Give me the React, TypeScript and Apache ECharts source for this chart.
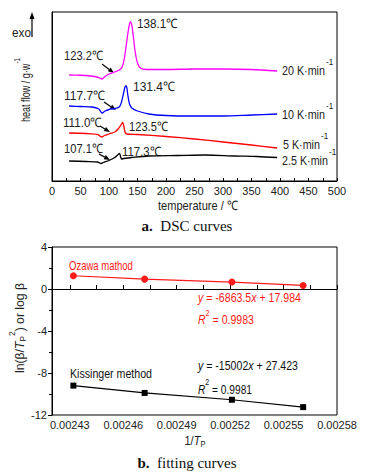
import React, { useEffect, useRef } from "react";
import * as echarts from "echarts";

// ---------- DSC curves (temperature in °C, heat flow in arbitrary units) ----------
const t20 = [30, 45, 60, 75, 84, 88, 92, 100, 110, 118, 123, 127, 131, 134, 136.5, 138, 140, 143, 146, 150, 155, 165, 200, 250, 300, 350, 395];
const hf20 = [106, 105.8, 105.5, 104.5, 103, 102, 104, 107, 109, 111, 114, 123, 139, 151, 158, 159, 156, 143, 129, 118, 113, 111.5, 111.5, 112, 112, 111.5, 110];

const t10 = [30, 50, 70, 82, 88, 93, 100, 110, 118, 122, 126, 129, 131, 133, 136, 140, 150, 170, 200, 250, 300, 350, 395];
const hf10 = [75, 74.5, 74, 72, 68, 70, 71.5, 72.5, 74, 79, 89, 95, 94, 86, 77, 73, 70, 67, 65.5, 65, 65, 66, 67];

const t5 = [30, 60, 80, 87, 92, 100, 110, 116, 121, 124, 126, 128, 131, 150, 200, 250, 300, 350, 395];
const hf5 = [48, 47.5, 46.5, 44, 45.5, 47, 49, 52, 56, 58.5, 55, 49, 47, 46.5, 44.5, 42, 39, 36, 33];

const t25 = [30, 60, 80, 86, 90, 100, 110, 116, 118.5, 120.5, 122, 126, 140, 170, 220, 270, 320, 360, 395];
const hf25 = [20, 19.5, 19, 17.5, 18.5, 20.5, 23.5, 26.5, 27.5, 24, 22, 22.5, 23.5, 25, 25.5, 26, 25, 24.5, 23.5];

const tempRange = [0, 500];

// ---------- fitting curves ----------
const invTp = [0.002432, 0.002472, 0.002521, 0.002561];
const ozawa = [1.26, 0.94, 0.66, 0.34];
const kissinger = [-9.2, -9.9, -10.55, -11.25];
const invTpLabels = [0.00243, 0.00246, 0.00249, 0.00252, 0.00255, 0.00258];
const invTpTicks = [0.00243, 0.002445, 0.00246, 0.002475, 0.00249, 0.002505, 0.00252, 0.002535, 0.00255, 0.002565, 0.00258];

const SANS = "'Liberation Sans', Arial, sans-serif";
const SERIF = "'Liberation Serif', 'Times New Roman', serif";
const TXT = "#222";
const SX = 0.84; // horizontal squeeze emulating the narrow face of the original

type Piece = { t: string; size?: number; italic?: boolean; bold?: boolean; dy?: number };

let ctx: CanvasRenderingContext2D | null = null;
function fontOf(p: Piece, base: number, fam: string) {
  return `${p.italic ? "italic " : ""}${p.bold ? "bold " : ""}${p.size || base}px ${fam}`;
}
function measure(font: string, text: string) {
  if (!ctx) ctx = document.createElement("canvas").getContext("2d");
  if (!ctx) return text.length * 6;
  ctx.font = font;
  return ctx.measureText(text).width;
}
// lays out a run of text pieces; if "target" is given, the run is squeezed to that width
function pieces(
  list: Piece[],
  x0: number,
  y0: number,
  color: string,
  opts: { anchor?: "left" | "center" | "right"; base?: number; fam?: string; target?: number; sx?: number } = {}
) {
  const base = opts.base || 13;
  const fam = opts.fam || SANS;
  const fonts = list.map((p) => fontOf(p, base, fam));
  const raw = list.map((p, i) => measure(fonts[i], p.t));
  const rawTotal = raw.reduce((a, b) => a + b, 0);
  const sx = opts.target ? opts.target / rawTotal : opts.sx ?? SX;
  const widths = raw.map((w) => w * sx);
  const total = rawTotal * sx;
  const anchor = opts.anchor || "left";
  let x = anchor === "center" ? x0 - total / 2 : anchor === "right" ? x0 - total : x0;
  return list.map((p, i) => {
    const el = {
      type: "text",
      x,
      y: y0 + (p.dy || 0),
      scaleX: sx,
      silent: true,
      style: {
        text: p.t,
        font: fonts[i],
        fill: color,
        align: "left",
        verticalAlign: "middle",
        textAlign: "left",
        textVerticalAlign: "middle",
      },
    };
    x += widths[i];
    return el;
  });
}
function arrow(x1: number, y1: number, x2: number, y2: number, head = 6, half = 2.3) {
  const a = Math.atan2(y2 - y1, x2 - x1);
  const bx = x2 - head * Math.cos(a);
  const by = y2 - head * Math.sin(a);
  const p1 = [bx + half * Math.sin(a), by - half * Math.cos(a)];
  const p2 = [bx - half * Math.sin(a), by + half * Math.cos(a)];
  return [
    { type: "line", silent: true, shape: { x1, y1, x2: bx, y2: by }, style: { stroke: "#000", lineWidth: 1.2 } },
    { type: "polygon", silent: true, shape: { points: [[x2, y2], p1, p2] }, style: { fill: "#000" } },
  ];
}
const zip = (a: number[], b: number[]) => a.map((v, i) => [v, b[i]]);

export default function App() {
  const ref = useRef<HTMLDivElement>(null);
  useEffect(() => {
    if (!ref.current) return;
    const chart = echarts.init(ref.current, null, { renderer: "svg" });

    const graphics: any[] = [];
    // exo arrow and text
    graphics.push(...pieces([{ t: "exo" }], 12, 33, TXT, { target: 19 }));
    graphics.push(...arrow(32, 37, 32, 12, 7, 2.5));
    // top y title
    graphics.push({
      type: "group",
      x: 25,
      y: 90,
      rotation: Math.PI / 2,
      children: pieces([{ t: "heat flow / g·w" }, { t: "-1", size: 9, dy: -8 }], 0, 0, TXT, { anchor: "center", target: 64 }),
    });
    // top x title
    graphics.push(...pieces([{ t: "temperature / ℃" }], 198, 206, TXT, { anchor: "center", target: 80 }));
    // peak labels [text, left, centre y, width]
    const peakLabels: [string, number, number, number][] = [
      ["138.1℃", 137, 24, 41],
      ["123.2℃", 64, 56, 39],
      ["117.7℃", 64, 96, 41],
      ["131.4℃", 133, 87, 42],
      ["111.0℃", 63, 123, 39],
      ["123.5℃", 129, 127, 39],
      ["107.1℃", 64, 149, 39],
      ["117.3℃", 122, 152, 39],
    ];
    peakLabels.forEach(([t, x, y, w]) => graphics.push(...pieces([{ t }], x, y, TXT, { target: w })));
    // rate labels [text, left, centre y, right end of main text]
    const rateLabels: [string, number, number, number][] = [
      ["20 K·min", 282, 71, 325],
      ["10 K·min", 282, 115, 325],
      ["5 K·min", 283, 145, 320],
      ["2.5 K·min", 282, 161, 328],
    ];
    rateLabels.forEach(([t, x, y, r]) => {
      graphics.push(...pieces([{ t }], x, y, TXT, { target: r - x }));
      graphics.push(...pieces([{ t: "-1", size: 9 }], r + 1, y - 9, TXT, { sx: 0.9 }));
    });
    // arrows
    graphics.push(...arrow(102, 64, 114, 73));
    graphics.push(...arrow(104, 102, 116, 110));
    graphics.push(...arrow(100, 126, 110, 132));
    graphics.push(...arrow(99, 154, 110, 160));
    // caption a
    graphics.push(
      ...pieces([{ t: "a.", bold: true }, { t: "  DSC curves" }], 187, 226, "#111", { anchor: "center", base: 15, fam: SERIF, sx: 1 })
    );

    // bottom annotations
    const RED = "#ff1a1a";
    graphics.push(...pieces([{ t: "Ozawa mathod" }], 69, 265, RED, { target: 64 }));
    graphics.push(
      ...pieces([{ t: "y", italic: true }, { t: " = -6863.5" }, { t: "x", italic: true }, { t: " + 17.984" }], 198, 298, RED, { target: 103 })
    );
    graphics.push(...pieces([{ t: "R", italic: true }, { t: "2", size: 9, dy: -7 }, { t: " = 0.9983" }], 198, 320, RED, { target: 56 }));
    graphics.push(...pieces([{ t: "Kissinger method" }], 70, 374, "#111", { target: 82 }));
    graphics.push(
      ...pieces([{ t: "y", italic: true }, { t: " = -15002" }, { t: "x", italic: true }, { t: " + 27.423" }], 198, 366, "#111", { target: 100 })
    );
    graphics.push(...pieces([{ t: "R", italic: true }, { t: "2", size: 9, dy: -7 }, { t: " = 0.9981" }], 198, 389, "#111", { target: 54 }));
    // bottom x title
    graphics.push(...pieces([{ t: "1/" }, { t: "T", italic: true }, { t: "P", size: 9, dy: 3 }], 195, 441, TXT, { anchor: "center", target: 21 }));
    // bottom y title
    graphics.push({
      type: "group",
      x: 20,
      y: 328,
      rotation: Math.PI / 2,
      children: pieces(
        [
          { t: "ln(β/" },
          { t: "T", italic: true },
          { t: "P", size: 9, dy: 3 },
          { t: "2", size: 9, dy: -8 },
          { t: ") or log β" },
        ],
        0,
        0,
        TXT,
        { anchor: "center", target: 90 }
      ),
    });
    // caption b
    graphics.push(
      ...pieces([{ t: "b.", bold: true }, { t: "  fitting curves" }], 187, 463, "#111", { anchor: "center", base: 15, fam: SERIF, sx: 1 })
    );

    const labelStyle = { fontFamily: SANS, fontSize: 11, color: TXT };

    chart.setOption({
      animation: false,
      backgroundColor: "#fff",
      grid: [
        { left: 52, top: 12, width: 285, height: 169, show: true, borderColor: "#000", borderWidth: 1, containLabel: false },
        { left: 52, top: 247, width: 285, height: 168, show: true, borderColor: "#000", borderWidth: 1, containLabel: false },
      ],
      xAxis: [
        {
          type: "value",
          gridIndex: 0,
          min: tempRange[0],
          max: tempRange[1],
          interval: 50,
          axisLine: { show: true, lineStyle: { color: "#000", width: 1 } },
          axisTick: { show: true, inside: true, length: 3, lineStyle: { color: "#000" } },
          minorTick: { show: true, splitNumber: 2, length: 3, lineStyle: { color: "#000" } },
          axisLabel: { ...labelStyle, margin: 4 },
          splitLine: { show: false },
        },
        {
          type: "value",
          gridIndex: 1,
          min: 0.00242,
          max: 0.00258,
          axisLine: { show: true, lineStyle: { color: "#000", width: 1 } },
          axisTick: { show: true, inside: true, length: 4, customValues: invTpTicks, lineStyle: { color: "#000" } },
          axisLabel: { ...labelStyle, margin: 4, customValues: invTpLabels, formatter: (v: number) => v.toFixed(5) },
          splitLine: { show: false },
        },
      ],
      yAxis: [
        {
          type: "value",
          gridIndex: 0,
          min: 0,
          max: 169,
          axisLine: { show: true, lineStyle: { color: "#000", width: 1 } },
          axisTick: { show: false },
          axisLabel: { show: false },
          splitLine: { show: false },
        },
        {
          type: "value",
          gridIndex: 1,
          min: -12,
          max: 4,
          interval: 4,
          axisLine: { show: true, lineStyle: { color: "#000", width: 1 } },
          axisTick: { show: true, inside: false, length: 4, lineStyle: { color: "#000" } },
          minorTick: { show: true, splitNumber: 2, length: 3, lineStyle: { color: "#000" } },
          axisLabel: { ...labelStyle, margin: 5 },
          splitLine: { show: false },
        },
      ],
      series: [
        { type: "line", xAxisIndex: 0, yAxisIndex: 0, data: zip(t20, hf20), showSymbol: false, smooth: 0.3, lineStyle: { color: "#ff00ff", width: 1.3 } },
        { type: "line", xAxisIndex: 0, yAxisIndex: 0, data: zip(t10, hf10), showSymbol: false, smooth: 0.3, lineStyle: { color: "#0000ff", width: 1.3 } },
        { type: "line", xAxisIndex: 0, yAxisIndex: 0, data: zip(t5, hf5), showSymbol: false, smooth: 0.3, lineStyle: { color: "#ff0000", width: 1.3 } },
        { type: "line", xAxisIndex: 0, yAxisIndex: 0, data: zip(t25, hf25), showSymbol: false, smooth: 0.3, lineStyle: { color: "#000", width: 1.3 } },
        {
          type: "line",
          xAxisIndex: 1,
          yAxisIndex: 1,
          data: zip(invTp, ozawa),
          symbol: "circle",
          symbolSize: 7,
          itemStyle: { color: "#ff1a1a" },
          lineStyle: { color: "#ff1a1a", width: 1.2 },
        },
        {
          type: "line",
          xAxisIndex: 1,
          yAxisIndex: 1,
          data: zip(invTp, kissinger),
          symbol: "rect",
          symbolSize: 6,
          itemStyle: { color: "#000" },
          lineStyle: { color: "#000", width: 1.2 },
        },
      ],
      graphic: graphics,
    });
    return () => chart.dispose();
  }, []);
  return <div ref={ref} style={{ position: "absolute", left: 0, top: 0, width: 369, height: 476, background: "#fff" }} />;
}
